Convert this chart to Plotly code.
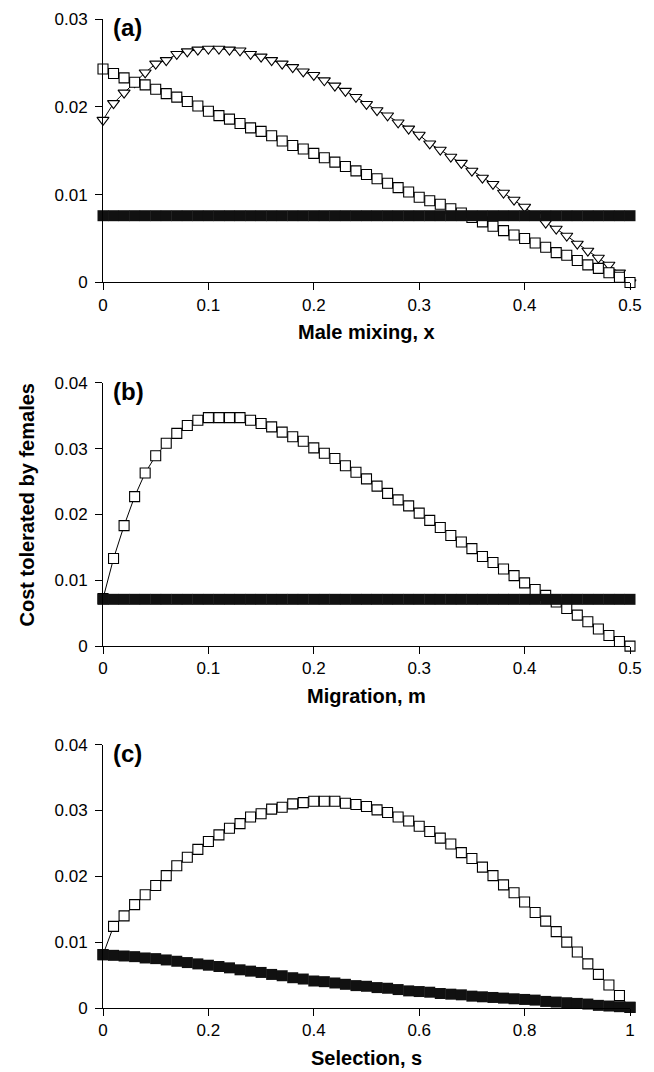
import plotly.graph_objects as go
from plotly.subplots import make_subplots

# ---------------- data ----------------
x_mix = [0.00, 0.01, 0.02, 0.03, 0.04, 0.05, 0.06, 0.07, 0.08, 0.09,
         0.10, 0.11, 0.12, 0.13, 0.14, 0.15, 0.16, 0.17, 0.18, 0.19,
         0.20, 0.21, 0.22, 0.23, 0.24, 0.25, 0.26, 0.27, 0.28, 0.29,
         0.30, 0.31, 0.32, 0.33, 0.34, 0.35, 0.36, 0.37, 0.38, 0.39,
         0.40, 0.41, 0.42, 0.43, 0.44, 0.45, 0.46, 0.47, 0.48, 0.49, 0.50]

a_squares = [0.0243, 0.0238, 0.0233, 0.0228, 0.0225, 0.0220, 0.0215, 0.0211, 0.0206, 0.0201,
             0.0195, 0.0190, 0.0186, 0.0181, 0.0176, 0.0172, 0.0167, 0.0161, 0.0156, 0.0152,
             0.0147, 0.0142, 0.0137, 0.0132, 0.0127, 0.0123, 0.0118, 0.0113, 0.0108, 0.0103,
             0.0097, 0.0093, 0.0089, 0.0084, 0.0079, 0.0074, 0.0069, 0.0064, 0.0059, 0.0054,
             0.0050, 0.0045, 0.0040, 0.0034, 0.0031, 0.0025, 0.0020, 0.0016, 0.0011, 0.0006, 0.0000]

a_triangles = [0.0185, 0.0204, 0.0216, 0.0228, 0.0239, 0.0249, 0.0253, 0.0260, 0.0263, 0.0265,
               0.0266, 0.0266, 0.0265, 0.0264, 0.0260, 0.0257, 0.0253, 0.0249, 0.0245, 0.0240,
               0.0236, 0.0230, 0.0224, 0.0218, 0.0211, 0.0203, 0.0196, 0.0190, 0.0182, 0.0175,
               0.0168, 0.0158, 0.0151, 0.0143, 0.0136, 0.0127, 0.0119, 0.0112, 0.0102, 0.0094,
               0.0086, 0.0077, 0.0068, 0.0061, 0.0053, 0.0044, 0.0036, 0.0028, 0.0020, 0.0011, 0.0000]

a_black = [0.0076, 0.0076, 0.0076, 0.0076, 0.0076, 0.0076, 0.0076, 0.0076, 0.0076, 0.0076,
           0.0076, 0.0076, 0.0076, 0.0076, 0.0076, 0.0076, 0.0076, 0.0076, 0.0076, 0.0076,
           0.0076, 0.0076, 0.0076, 0.0076, 0.0076, 0.0076, 0.0076, 0.0076, 0.0076, 0.0076,
           0.0076, 0.0076, 0.0076, 0.0076, 0.0076, 0.0076, 0.0076, 0.0076, 0.0076, 0.0076,
           0.0076, 0.0076, 0.0076, 0.0076, 0.0076, 0.0076, 0.0076, 0.0076, 0.0076, 0.0076, 0.0076]

m_migr = x_mix

b_squares = [0.0072, 0.0133, 0.0183, 0.0227, 0.0263, 0.0289, 0.0308, 0.0323, 0.0335, 0.0343,
             0.0347, 0.0347, 0.0347, 0.0347, 0.0343, 0.0338, 0.0333, 0.0325, 0.0318, 0.0311,
             0.0301, 0.0293, 0.0285, 0.0274, 0.0264, 0.0254, 0.0243, 0.0232, 0.0222, 0.0213,
             0.0202, 0.0191, 0.0180, 0.0168, 0.0158, 0.0148, 0.0136, 0.0127, 0.0117, 0.0107,
             0.0096, 0.0086, 0.0077, 0.0067, 0.0057, 0.0047, 0.0037, 0.0026, 0.0016, 0.0007, 0.0000]

b_black = [0.0071, 0.0071, 0.0071, 0.0071, 0.0071, 0.0071, 0.0071, 0.0071, 0.0071, 0.0071,
           0.0071, 0.0071, 0.0071, 0.0071, 0.0071, 0.0071, 0.0071, 0.0071, 0.0071, 0.0071,
           0.0071, 0.0071, 0.0071, 0.0071, 0.0071, 0.0071, 0.0071, 0.0071, 0.0071, 0.0071,
           0.0071, 0.0071, 0.0071, 0.0071, 0.0071, 0.0071, 0.0071, 0.0071, 0.0071, 0.0071,
           0.0071, 0.0071, 0.0071, 0.0071, 0.0071, 0.0071, 0.0071, 0.0071, 0.0071, 0.0071, 0.0071]

s_sel = [0.00, 0.02, 0.04, 0.06, 0.08, 0.10, 0.12, 0.14, 0.16, 0.18,
         0.20, 0.22, 0.24, 0.26, 0.28, 0.30, 0.32, 0.34, 0.36, 0.38,
         0.40, 0.42, 0.44, 0.46, 0.48, 0.50, 0.52, 0.54, 0.56, 0.58,
         0.60, 0.62, 0.64, 0.66, 0.68, 0.70, 0.72, 0.74, 0.76, 0.78,
         0.80, 0.82, 0.84, 0.86, 0.88, 0.90, 0.92, 0.94, 0.96, 0.98, 1.00]

c_squares = [0.0081, 0.0124, 0.0140, 0.0157, 0.0172, 0.0186, 0.0201, 0.0216, 0.0229, 0.0241,
             0.0253, 0.0263, 0.0273, 0.0280, 0.0290, 0.0295, 0.0302, 0.0305, 0.0310, 0.0312,
             0.0314, 0.0314, 0.0314, 0.0311, 0.0309, 0.0306, 0.0301, 0.0297, 0.0290, 0.0284,
             0.0276, 0.0268, 0.0258, 0.0249, 0.0236, 0.0227, 0.0214, 0.0201, 0.0187, 0.0175,
             0.0161, 0.0145, 0.0132, 0.0116, 0.0100, 0.0085, 0.0067, 0.0051, 0.0035, 0.0019, 0.0001]

c_black = [0.0081, 0.0080, 0.0079, 0.0078, 0.0076, 0.0075, 0.0073, 0.0071, 0.0069, 0.0067,
           0.0065, 0.0063, 0.0061, 0.0058, 0.0056, 0.0054, 0.0051, 0.0049, 0.0046, 0.0044,
           0.0041, 0.0040, 0.0038, 0.0036, 0.0034, 0.0033, 0.0031, 0.0030, 0.0028, 0.0026,
           0.0025, 0.0024, 0.0022, 0.0021, 0.0020, 0.0018, 0.0017, 0.0016, 0.0015, 0.0014,
           0.0013, 0.0012, 0.0010, 0.0009, 0.0008, 0.0007, 0.0006, 0.0004, 0.0003, 0.0002, 0.0001]

x_titles = ["Male mixing, x", "Migration, m", "Selection, s"]
panel_labels = ["(a)", "(b)", "(c)"]
y_title = "Cost tolerated by females"

# ---------------- figure ----------------
OFF = 8                      # default page body margin
W, H = 654 - OFF, 1072 - OFF
ML, MR, MT, MB = 102.5 - OFF, 24, 18.5 - OFF, 64.3
PW = W - ML - MR
PH = H - MT - MB

def py(pix):  # page pixel-from-top -> paper y
    return (H - MB - (pix - OFF)) / PH

def px(pix):
    return (pix - OFF - ML) / PW

FONT = "Liberation Sans, Arial, Helvetica, sans-serif"

fig = make_subplots(rows=3, cols=1)
doms = [(py(282), 1.0), (py(645.7), py(382.3)), (0.0, py(744.3))]

open_sq = dict(symbol="square", size=10, color="white", line=dict(color="black", width=1.1))
open_tri = dict(symbol="triangle-down", size=10.5, color="white", line=dict(color="black", width=1.1))
black_sq = dict(symbol="square", size=11, color="#111111", line=dict(width=0))
thin = dict(color="black", width=1)

# (a)
fig.add_trace(go.Scatter(x=x_mix, y=a_triangles, mode="lines+markers", marker=open_tri, line=thin, cliponaxis=False), 1, 1)
fig.add_trace(go.Scatter(x=x_mix, y=a_squares, mode="lines+markers", marker=open_sq, line=thin, cliponaxis=False), 1, 1)
fig.add_trace(go.Scatter(x=x_mix, y=a_black, mode="markers", marker=black_sq, cliponaxis=False), 1, 1)
# (b)
fig.add_trace(go.Scatter(x=m_migr, y=b_squares, mode="lines+markers", marker=open_sq, line=thin, cliponaxis=False), 2, 1)
fig.add_trace(go.Scatter(x=m_migr, y=b_black, mode="markers", marker=black_sq, cliponaxis=False), 2, 1)
# (c)
fig.add_trace(go.Scatter(x=s_sel, y=c_squares, mode="lines+markers", marker=open_sq, line=thin, cliponaxis=False), 3, 1)
fig.add_trace(go.Scatter(x=s_sel, y=c_black, mode="markers", marker=black_sq, cliponaxis=False), 3, 1)

axis_common = dict(showline=True, linecolor="black", linewidth=1, ticks="outside",
                   tickcolor="black", tickwidth=1, showgrid=False, zeroline=False,
                   automargin=False,
                   tickfont=dict(family=FONT, size=17, color="black"))

xranges = [[0, 0.5], [0, 0.5], [0, 1]]
xdt = [0.1, 0.1, 0.2]
yranges = [[0, 0.03], [0, 0.04], [0, 0.04]]
for i in range(3):
    fig.update_xaxes(range=xranges[i], dtick=xdt[i], tick0=0, ticklen=7, ticklabelstandoff=0,
                     domain=[0, 1], row=i + 1, col=1, **axis_common)
    fig.update_yaxes(range=yranges[i], dtick=0.01, tick0=0, ticklen=7, ticklabelstandoff=4,
                     domain=list(doms[i]), row=i + 1, col=1, **axis_common)

annos = []
axis_bottom = [282, 645.7, 1007.7]
axis_top = [18.5, 382.3, 744.3]
for i in range(3):
    annos.append(dict(text="<b>%s</b>" % x_titles[i], xref="paper", yref="paper",
                      x=0.5, y=py(axis_bottom[i] + 50), xanchor="center", yanchor="middle",
                      showarrow=False, font=dict(family=FONT, size=20, color="black")))
    annos.append(dict(text="<b>%s</b>" % panel_labels[i], xref="paper", yref="paper",
                      x=px(111), y=py(axis_top[i] + 9), xanchor="left", yanchor="middle",
                      showarrow=False, font=dict(family=FONT, size=24, color="black")))
annos.append(dict(text="<b>%s</b>" % y_title, xref="paper", yref="paper",
                  x=px(26), y=py(504.5), xanchor="center", yanchor="middle", textangle=-90,
                  showarrow=False, font=dict(family=FONT, size=20, color="black")))

fig.update_layout(width=W, height=H, margin=dict(l=ML, r=MR, t=MT, b=MB, pad=0, autoexpand=False),
                  paper_bgcolor="white", plot_bgcolor="white", showlegend=False,
                  annotations=annos, font=dict(family=FONT, color="black"))

fig.write_html("out.html")
